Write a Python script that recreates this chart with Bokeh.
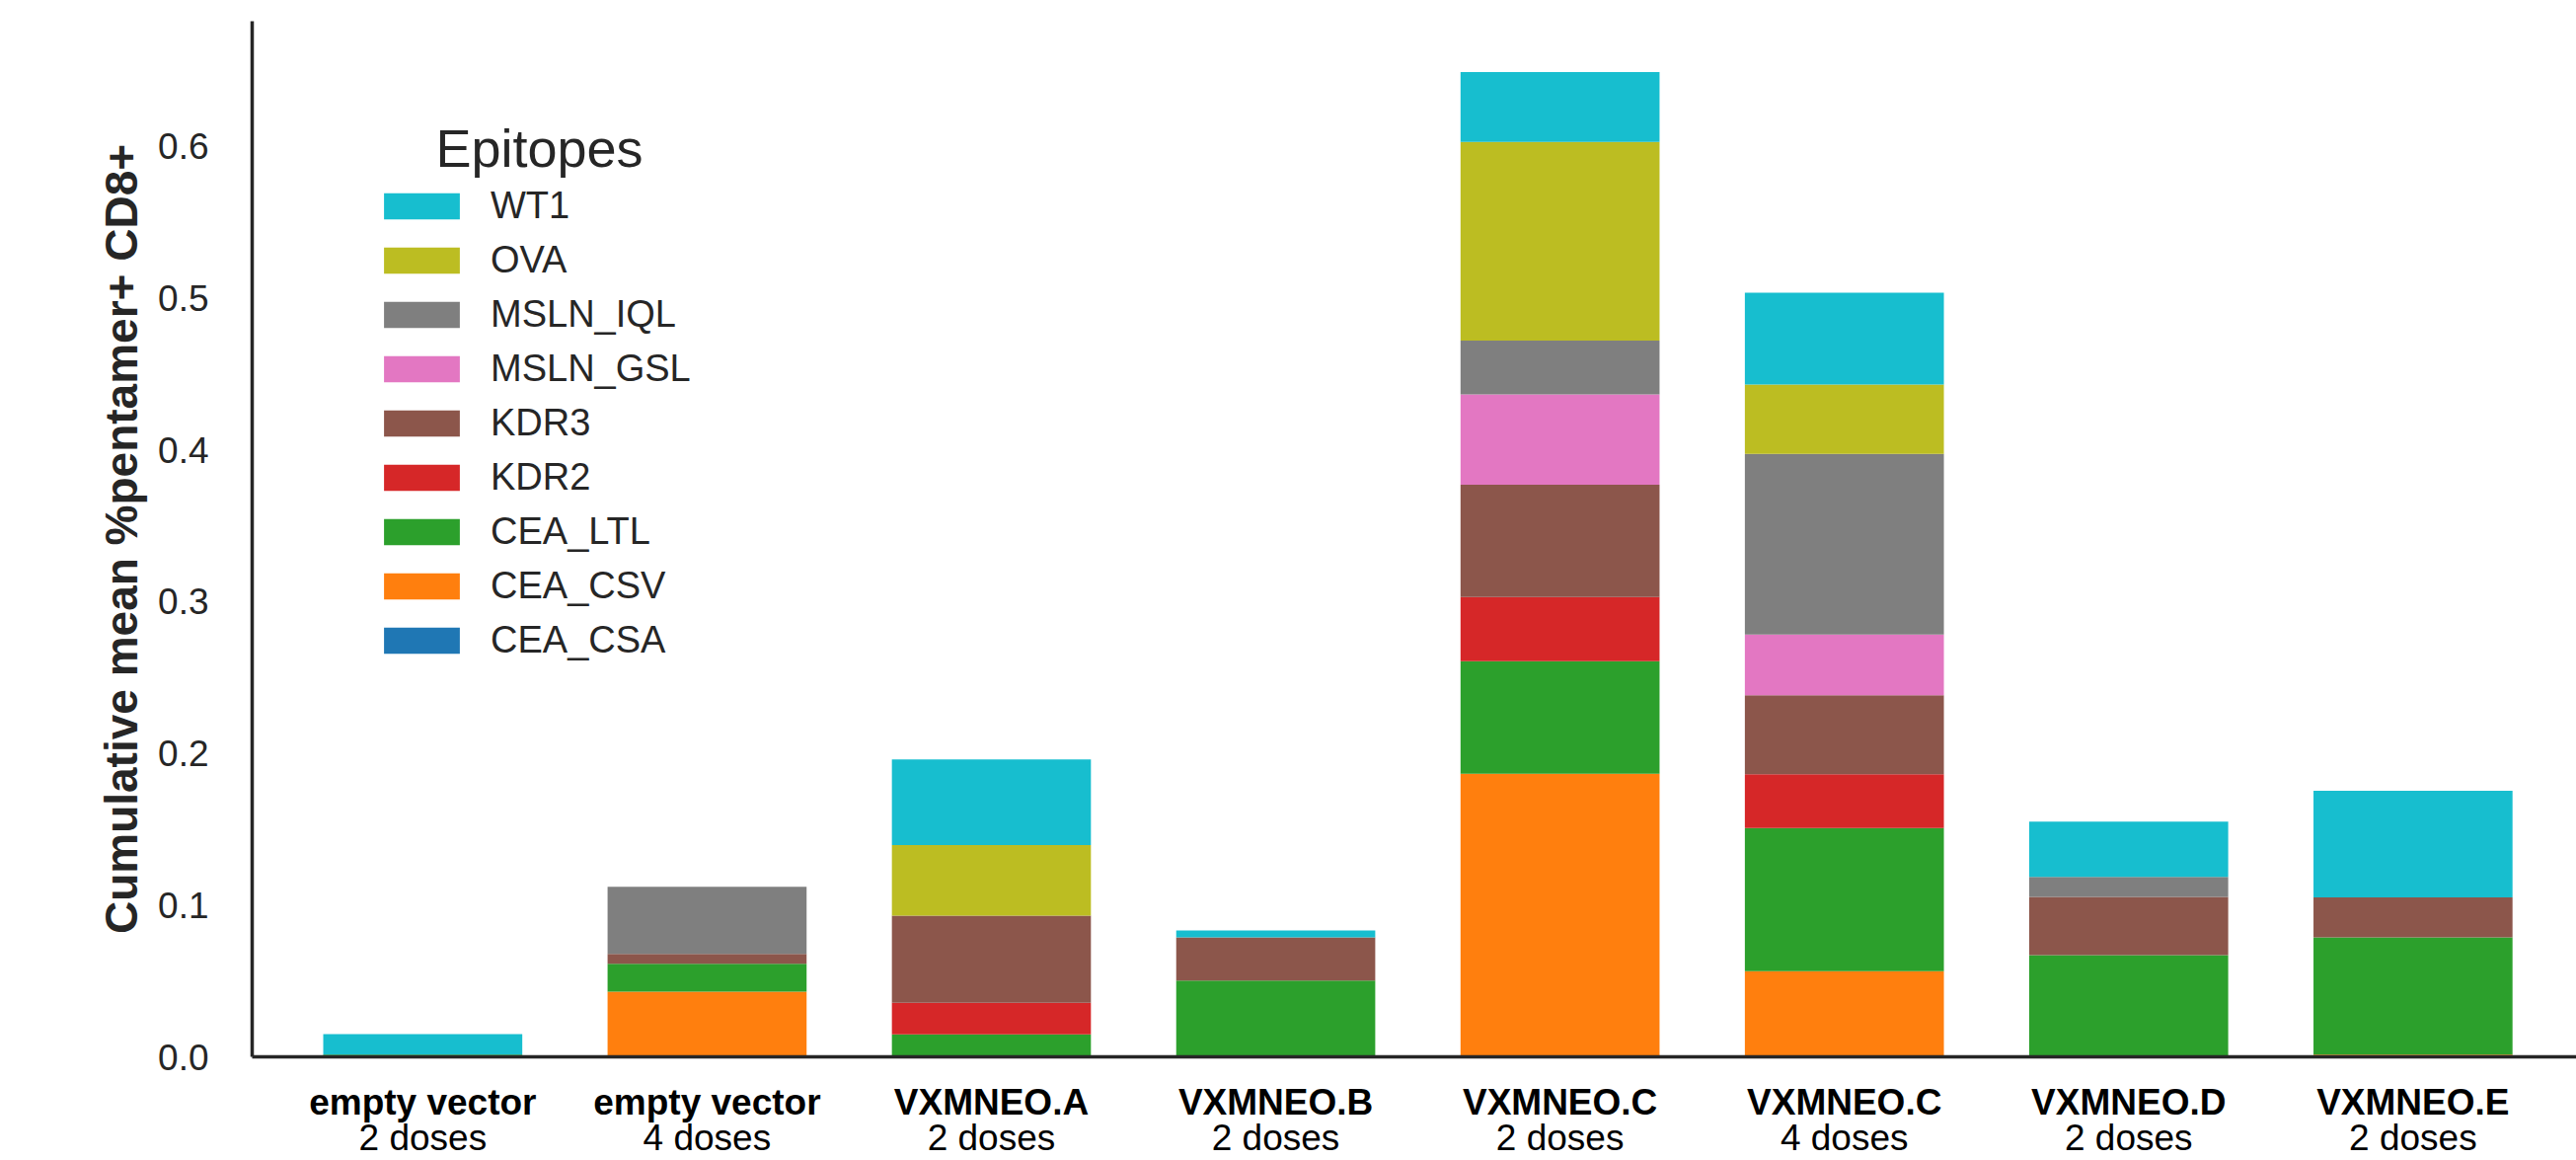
from bokeh.plotting import figure
from bokeh.models import (ColumnDataSource, Range1d, FixedTicker, PrintfTickFormatter,
                          Legend, LegendItem, Label, LinearAxis)
from bokeh.embed import file_html
from bokeh.resources import INLINE

# ---- data -------------------------------------------------------------
groups = ["empty vector", "empty vector", "VXMNEO.A", "VXMNEO.B",
          "VXMNEO.C", "VXMNEO.C", "VXMNEO.D", "VXMNEO.E"]
doses = ["2 doses", "4 doses", "2 doses", "2 doses",
         "2 doses", "4 doses", "2 doses", "2 doses"]

epitopes = ["CEA_CSA", "CEA_CSV", "CEA_LTL", "KDR2", "KDR3",
            "MSLN_GSL", "MSLN_IQL", "OVA", "WT1"]

CEA_CSA = [0, 0, 0, 0, 0, 0, 0, 0]
CEA_CSV = [0, 0.043, 0, 0, 0.1865, 0.0565, 0, 0.0015]
CEA_LTL = [0.0015, 0.0183, 0.0148, 0.0503, 0.0742, 0.0942, 0.067, 0.0772]
KDR2 = [0, 0, 0.0209, 0, 0.0423, 0.0356, 0, 0]
KDR3 = [0, 0.0065, 0.0573, 0.0284, 0.074, 0.052, 0.0384, 0.0263]
MSLN_GSL = [0, 0, 0, 0, 0.0595, 0.040, 0, 0]
MSLN_IQL = [0, 0.0442, 0, 0, 0.0355, 0.119, 0.0131, 0]
OVA = [0, 0, 0.0466, 0, 0.131, 0.0457, 0, 0]
WT1 = [0.0135, 0, 0.0564, 0.0046, 0.046, 0.0606, 0.0365, 0.0704]

colors = ["#1f77b4", "#ff7f0e", "#2ca02c", "#d62728", "#8c564b",
          "#e377c2", "#7f7f7f", "#bcbd22", "#17becf"]

y_ticks = [0.0, 0.1, 0.2, 0.3, 0.4, 0.5, 0.6]

# ---- figure -----------------------------------------------------------
FONT = "Liberation Sans"
TXT = "#262626"

xs = list(range(len(groups)))
series = [CEA_CSA, CEA_CSV, CEA_LTL, KDR2, KDR3, MSLN_GSL, MSLN_IQL, OVA, WT1]
data = {"x": xs}
for name, vals in zip(epitopes, series):
    data[name] = vals
source = ColumnDataSource(data)

p = figure(width=2610, height=1175, output_backend="svg", toolbar_location=None,
           x_range=Range1d(-0.6, 7.575), y_range=Range1d(0, 0.6825),
           min_border_left=255, min_border_right=0, min_border_top=21,
           min_border_bottom=105)
p.outline_line_color = None
p.grid.visible = False
p.background_fill_color = "white"
p.border_fill_color = "white"

renderers = p.vbar_stack(epitopes, x="x", width=0.7, color=colors,
                         source=source, line_color=None)

# axes
p.axis.axis_line_width = 3.5
p.axis.axis_line_color = TXT
p.axis.major_tick_out = 0
p.axis.major_tick_in = 0
p.axis.minor_tick_out = 0
p.axis.minor_tick_in = 0

p.xaxis.ticker = FixedTicker(ticks=xs)
p.xaxis.major_label_overrides = {i: g for i, g in enumerate(groups)}
p.xaxis.major_label_text_font = FONT
p.xaxis.major_label_text_font_size = "37px"
p.xaxis.major_label_text_font_style = "bold"
p.xaxis.major_label_text_color = "black"
p.xaxis.major_label_standoff = 25

# second line of category labels (doses) as another axis below
ax2 = LinearAxis(ticker=FixedTicker(ticks=xs),
                 major_label_overrides={i: d for i, d in enumerate(doses)},
                 axis_line_color=None, major_tick_out=0, major_tick_in=0,
                 minor_tick_out=0, minor_tick_in=0, major_label_standoff=-8,
                 major_label_text_font=FONT, major_label_text_font_size="37px",
                 major_label_text_color="black")
p.add_layout(ax2, "below")

p.yaxis.ticker = FixedTicker(ticks=y_ticks)
p.yaxis.formatter = PrintfTickFormatter(format="%.1f")
p.yaxis.major_label_text_font = FONT
p.yaxis.major_label_text_font_size = "37px"
p.yaxis.major_label_text_color = TXT
p.yaxis.major_label_standoff = 44
p.yaxis.axis_label = "Cumulative mean %pentamer+ CD8+"
p.yaxis.axis_label_text_font = FONT
p.yaxis.axis_label_text_font_size = "46px"
p.yaxis.axis_label_text_font_style = "bold"
p.yaxis.axis_label_text_color = TXT
p.yaxis.axis_label_standoff = 8

# legend (bar legend glyphs are inset 10% on each side)
items = [LegendItem(label=name, renderers=[r])
         for name, r in reversed(list(zip(epitopes, renderers)))]
legend = Legend(items=items, location=(124, 400), glyph_width=96, glyph_height=33,
                label_standoff=22, spacing=12, padding=0, margin=0,
                border_line_color=None, background_fill_alpha=0,
                label_text_font=FONT, label_text_font_size="38px",
                label_text_color=TXT)
p.add_layout(legend)

p.add_layout(Label(x=291, y=921, x_units="screen", y_units="screen", text="Epitopes",
                   text_align="center", text_baseline="alphabetic",
                   text_font=FONT, text_font_size="54px", text_color=TXT))

open("out.html", "w").write(file_html(p, INLINE))
